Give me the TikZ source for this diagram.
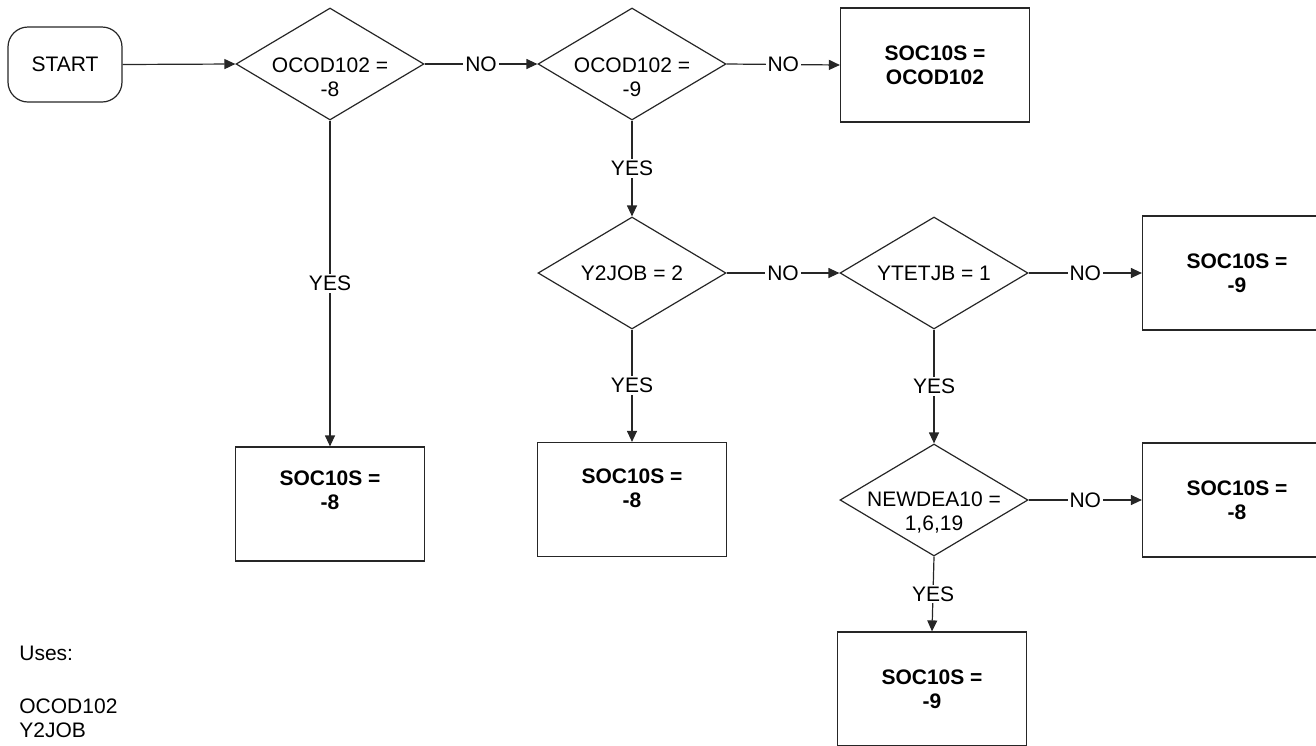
\documentclass[tikz,border=0pt]{standalone}
\usepackage{fontspec}
\setmainfont{Liberation Sans}
\usetikzlibrary{shapes.geometric,arrows.meta}
\begin{document}
\begin{tikzpicture}[x=0.5pt,y=-0.5pt,
  font=\fontsize{10.5}{12}\selectfont,
  ln/.style={draw=black!85, line width=0.6pt},
  dia/.style={diamond, ln, minimum width=94pt, minimum height=56pt, inner sep=0pt},
  dtext/.style={align=center, inner sep=0pt},
  btext/.style={align=center, inner sep=0pt, font=\fontsize{10.5}{12}\selectfont\bfseries},
  res/.style={rectangle, ln, minimum width=94.5pt, minimum height=57pt, inner sep=0pt, align=center, font=\fontsize{10.5}{12}\selectfont\bfseries},
  term/.style={rectangle, ln, rounded corners=10pt, minimum width=57pt, minimum height=37.5pt, inner sep=0pt},
  arr/.style={ln, -{Triangle[length=5.5pt,width=5pt]}},
  lbl/.style={fill=white, inner sep=1pt},
  plain/.style={inner sep=0pt, anchor=west}
]
\useasboundingbox (0,0) rectangle (1316,745);
\clip (0,0) rectangle (1316,745);

% row 1
\node[term] (start) at (65,64.5) {START};
\node[dia] (d1) at (330,64) {};
\node[dtext] (t1) at (330,77) {OCOD102 =\\-8};
\node[dia] (d2) at (632,64) {};
\node[dtext] (t2) at (632,77) {OCOD102 =\\-9};
\node[res] (b1) at (935,65) {SOC10S =\\OCOD102};

% row 2
\node[dia] (d3) at (632,273) {};
\node[dtext] (t3) at (632,273) {Y2JOB = 2};
\node[dia] (d4) at (934,273) {};
\node[dtext] (t4) at (934,273) {YTETJB = 1};
\node[res] (b3) at (1237,273) {SOC10S =\\-9};

% row 3
\node[res] (b2) at (330,504) {};
\node[btext] (bt2) at (330,490) {SOC10S =\\-8};
\node[res] (b4) at (632,499.5) {};
\node[btext] (bt4) at (632,488) {SOC10S =\\-8};
\node[dia] (d5) at (934,500) {};
\node[dtext] (t5) at (934,512) {NEWDEA10 =\\1,6,19};
\node[res] (b5) at (1237,500) {SOC10S =\\-8};

% row 4
\node[res] (b6) at (932,689) {SOC10S =\\-9};

% notes
\node[plain] (u1) at (19,653) {Uses:};
\node[plain] (u2) at (19,706) {OCOD102};
\node[plain] (u3) at (19,730) {Y2JOB};

% connectors
\draw[arr] (start.east) -- (d1.west);
\draw[arr] (d1.east) -- node[lbl]{NO} (d2.west);
\draw[arr] (d2.east) -- node[lbl]{NO} (b1.west);
\draw[arr] (d1.south) -- node[lbl]{YES} (b2.north);
\draw[arr] (d2.south) -- node[lbl]{YES} (d3.north);
\draw[arr] (d3.east) -- node[lbl]{NO} (d4.west);
\draw[arr] (d4.east) -- node[lbl]{NO} (b3.west);
\draw[arr] (d3.south) -- node[lbl]{YES} (b4.north);
\draw[arr] (d4.south) -- node[lbl]{YES} (d5.north);
\draw[arr] (d5.east) -- node[lbl]{NO} (b5.west);
\draw[arr] (d5.south) -- node[lbl]{YES} (b6.north);
\end{tikzpicture}
\end{document}
